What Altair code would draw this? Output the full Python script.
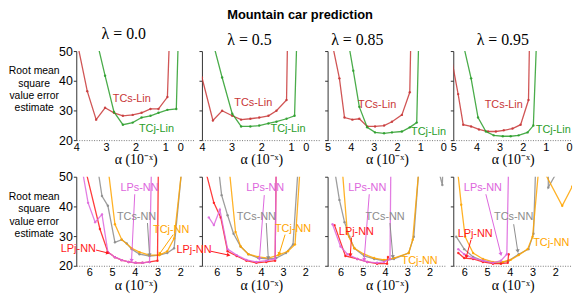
import math
import altair as alt
import pandas as pd

# ---------------- colours / series ----------------
COL = {
    "TCs-Lin": "#c83737",
    "TCj-Lin": "#2a9d2a",
    "LPs-NN": "#dd66dd",
    "LPj-NN": "#ff1a1a",
    "TCs-NN": "#8c8c8c",
    "TCj-NN": "#ffa500",
}
lambdas = ["0.0", "0.5", "0.85", "0.95"]
row_label = ["Root mean", "square", "value error", "estimate"]
x_title = "α  (10⁻ˣ)"

# ---------------- top row: linear function approximation ----------------
# x = exponent of step size (alpha = 10^-x), y = RMS value error estimate
l00_tcs_lin_x = [3.95, 3.63, 3.33, 3.03, 2.73, 2.43, 2.10, 1.80, 1.50, 1.23, 0.93, 0.87]
l00_tcs_lin_y = [52, 36.5, 26.9, 30.9, 29.2, 28.2, 28.5, 29.2, 30.5, 30.5, 34.5, 52]
l00_tcj_lin_x = [3.25, 3.03, 2.73, 2.43, 2.10, 1.80, 1.50, 1.23, 0.93, 0.63, 0.57]
l00_tcj_lin_y = [51, 41.7, 29.5, 25.2, 25.9, 27.6, 28.2, 29.2, 30.2, 30.5, 52]

l05_tcs_lin_x = [4.00, 3.63, 3.32, 2.98, 2.68, 2.37, 2.07, 1.76, 1.49, 1.15, 1.12]
l05_tcs_lin_y = [41.1, 26.6, 29.9, 28.2, 26.9, 27.2, 27.6, 28.2, 29.9, 33.5, 52]
l05_tcj_lin_x = [3.58, 3.32, 2.98, 2.68, 2.37, 2.07, 1.76, 1.49, 1.15, 0.88, 0.81]
l05_tcj_lin_y = [51, 41.1, 28.9, 24.6, 24.6, 24.9, 25.6, 26.2, 27.2, 28.2, 52]

l85_tcs_lin_x = [4.76, 4.49, 4.27, 3.93, 3.63, 3.29, 2.95, 2.56, 2.22, 1.79, 1.45, 1.41]
l85_tcs_lin_y = [51, 40.8, 27.6, 26.9, 27.2, 24.6, 24.6, 24.9, 26.2, 28.5, 36.1, 52]
l85_tcj_lin_x = [4.06, 3.89, 3.63, 3.29, 2.95, 2.56, 2.22, 1.79, 1.45, 1.15, 1.07]
l85_tcj_lin_y = [51, 43.4, 31.2, 24.3, 22.6, 22.3, 22.6, 22.9, 24.3, 25.9, 52]

l95_tcs_lin_x = [5.10, 4.79, 4.57, 4.23, 3.89, 3.50, 3.16, 2.82, 2.44, 2.09, 1.75, 1.71]
l95_tcs_lin_y = [48.5, 35.5, 25.2, 24.6, 23.6, 22.9, 22.9, 23.3, 23.9, 25.2, 33.5, 52]
l95_tcj_lin_x = [4.53, 4.23, 3.93, 3.59, 3.25, 2.86, 2.52, 2.18, 1.79, 1.54, 1.41]
l95_tcj_lin_y = [51, 40.8, 27.6, 22.9, 21.6, 21.3, 21.3, 21.6, 22.6, 24.9, 52]

# ---------------- bottom row: neural network ----------------
l00_lps_nn_x = [6.30, 6.05, 5.74, 5.44, 5.18, 4.87, 4.57, 4.27, 3.96, 3.66, 3.35, 3.26]
l00_lps_nn_y = [52, 41.2, 34.7, 37.3, 24.6, 22.9, 21.9, 21.3, 21.0, 21.0, 21.3, 55]
l00_lpj_nn_x = [6.12, 5.53, 5.18, 4.87, 4.57, 4.27, 3.96, 3.66, 3.35, 3.00, 2.96]
l00_lpj_nn_y = [51, 32.4, 24.6, 22.9, 21.9, 21.3, 21.0, 21.0, 21.3, 21.7, 55]
l00_tcs_nn_x = [5.60, 5.44, 5.18, 4.87, 4.57, 4.35, 4.13, 3.79, 3.35, 2.92, 2.57, 2.27, 1.94]
l00_tcs_nn_y = [51.5, 43.5, 40.2, 27.9, 28.8, 27.5, 25.6, 23.9, 23.3, 23.6, 24.3, 25.9, 52]
l00_tcj_nn_x = [5.15, 4.87, 4.57, 4.13, 3.79, 3.35, 2.92, 2.57, 2.27, 1.94]
l00_tcj_nn_y = [51.5, 34.0, 28.8, 25.9, 24.6, 23.6, 23.6, 24.9, 29.2, 52]

l05_lps_nn_x = [6.36, 6.13, 5.86, 5.51, 5.10, 4.66, 4.21, 3.76, 3.36, 3.31]
l05_lps_nn_y = [36.3, 33.7, 38.9, 25.6, 23.6, 22.0, 21.3, 21.7, 22.3, 55]
l05_lpj_nn_x = [6.47, 6.13, 5.82, 5.51, 5.10, 4.66, 4.21, 3.76, 3.36, 3.31]
l05_lpj_nn_y = [51, 41.2, 36.3, 24.9, 23.3, 21.7, 21.0, 21.3, 21.7, 55]
l05_tcs_nn_x = [5.90, 5.78, 5.51, 5.24, 4.92, 4.57, 4.12, 3.67, 3.31, 2.87, 2.55, 2.33]
l05_tcs_nn_y = [51.5, 43.8, 37.0, 30.8, 26.5, 23.9, 22.6, 22.3, 22.6, 24.3, 27.2, 52]
l05_tcj_nn_x = [5.42, 5.15, 4.92, 4.57, 4.12, 3.67, 3.22, 2.78, 2.46, 2.24]
l05_tcj_nn_y = [51.5, 31.4, 26.5, 23.9, 23.0, 22.6, 23.6, 24.9, 27.2, 52]

l85_lps_nn_x = [6.36, 6.00, 5.69, 5.25, 4.80, 4.36, 4.05, 3.78, 3.74]
l85_lps_nn_y = [34.0, 26.5, 23.9, 22.3, 21.3, 21.0, 21.3, 22.3, 55]
l85_lpj_nn_x = [6.27, 5.78, 5.25, 4.80, 4.36, 3.91, 3.87]
l85_lpj_nn_y = [33.7, 23.3, 22.3, 21.3, 20.7, 20.7, 23.0]
l85_tcs_nn_x = [6.25, 6.05, 5.82, 5.60, 5.38, 4.94, 4.49, 4.05, 3.60, 2.94, 2.71, 2.49, 1.56, 1.43, 1.40]
l85_tcs_nn_y = [51.5, 42.2, 34.7, 29.8, 25.9, 23.3, 22.3, 21.7, 22.3, 24.3, 29.8, 52, 51, 47.2, 55]
l85_tcj_nn_x = [5.91, 5.69, 5.38, 4.94, 4.49, 4.05, 3.60, 2.94, 2.76, 2.49]
l85_tcj_nn_y = [51.5, 30.8, 25.9, 23.9, 22.6, 22.0, 22.6, 24.3, 28.8, 52]

l95_lps_nn_x = [6.26, 6.00, 5.61, 5.18, 4.74, 4.39, 4.13, 4.05]
l95_lps_nn_y = [25.6, 23.9, 22.6, 21.7, 21.0, 21.7, 23.9, 55]
l95_lpj_nn_x = [6.26, 6.00, 5.61, 5.18, 4.74, 4.39, 4.09, 4.05]
l95_lpj_nn_y = [24.3, 22.6, 22.3, 21.3, 20.7, 20.7, 21.0, 23.9]
l95_tcs_nn_x = [6.35, 6.00, 5.61, 5.18, 4.74, 4.39, 4.05, 3.61, 3.18, 2.96, 2.87, 2.31, 2.31, 1.90]
l95_tcs_nn_y = [29.8, 25.6, 23.0, 21.7, 21.0, 21.0, 21.7, 23.9, 25.6, 30.8, 52, 52, 46.4, 52]
l95_tcj_nn_x = [6.28, 6.13, 5.96, 5.61, 5.18, 4.74, 4.31, 3.96, 3.61, 3.22, 3.00, 2.74, 2.48, 1.70, 1.26]
l95_tcj_nn_y = [51.5, 40.6, 29.8, 24.3, 22.3, 21.3, 21.3, 22.0, 23.6, 25.6, 29.8, 52, 51.5, 40.2, 46.7]

# ---------------- annotations (data units) ----------------
top_labels = [
    [("TCs-Lin", 2.13, 33.8), ("TCj-Lin", 1.30, 23.9)],
    [("TCs-Lin", 2.27, 32.5), ("TCj-Lin", 1.10, 23.6)],
    [("TCs-Lin", 2.86, 31.8), ("TCj-Lin", 0.64, 22.6)],
    [("TCs-Lin", 2.82, 31.8), ("TCj-Lin", 0.68, 23.3)],
]
bot_labels = [
    [("LPs-NN", 3.79, 46.1), ("TCs-NN", 3.92, 36.3), ("TCj-NN", 2.40, 32.1), ("LPj-NN", 6.48, 25.6)],
    [("LPs-NN", 3.81, 46.1), ("TCs-NN", 4.21, 36.3), ("TCj-NN", 2.55, 32.4), ("LPj-NN", 7.03, 25.2)],
    [("LPs-NN", 4.80, 46.1), ("TCs-NN", 4.00, 36.3), ("LPj-NN", 5.29, 31.4), ("TCj-NN", 2.45, 21.7)],
    [("LPs-NN", 5.18, 46.1), ("TCs-NN", 3.83, 36.3), ("LPj-NN", 5.52, 30.8), ("TCj-NN", 2.18, 27.5)],
]
bot_arrows = [
    [("LPj-NN", 5.70, 25.3, 5.18, 24.3), ("LPs-NN", 4.00, 44.1, 4.14, 21.7),
     ("TCs-NN", 3.44, 34.4, 3.35, 23.6), ("TCj-NN", 2.31, 30.5, 2.92, 23.9)],
    [("LPj-NN", 6.27, 24.9, 5.46, 23.6), ("LPs-NN", 3.85, 43.8, 4.07, 22.3),
     ("TCs-NN", 3.76, 34.4, 3.67, 22.6), ("TCj-NN", 2.91, 30.5, 3.18, 23.9)],
    [("LPj-NN", 5.51, 29.5, 5.56, 23.6), ("LPs-NN", 4.71, 44.1, 4.94, 22.0),
     ("TCs-NN", 3.78, 34.4, 3.65, 23.0)],
    [("LPj-NN", 5.70, 28.8, 5.91, 23.0), ("LPs-NN", 5.05, 44.1, 4.39, 23.9),
     ("TCs-NN", 3.83, 34.0, 3.65, 24.9)],
]

top_lines = [
    [("TCs-Lin", l00_tcs_lin_x, l00_tcs_lin_y), ("TCj-Lin", l00_tcj_lin_x, l00_tcj_lin_y)],
    [("TCs-Lin", l05_tcs_lin_x, l05_tcs_lin_y), ("TCj-Lin", l05_tcj_lin_x, l05_tcj_lin_y)],
    [("TCs-Lin", l85_tcs_lin_x, l85_tcs_lin_y), ("TCj-Lin", l85_tcj_lin_x, l85_tcj_lin_y)],
    [("TCs-Lin", l95_tcs_lin_x, l95_tcs_lin_y), ("TCj-Lin", l95_tcj_lin_x, l95_tcj_lin_y)],
]
bot_lines = [
    [("TCs-NN", l00_tcs_nn_x, l00_tcs_nn_y), ("TCj-NN", l00_tcj_nn_x, l00_tcj_nn_y),
     ("LPj-NN", l00_lpj_nn_x, l00_lpj_nn_y), ("LPs-NN", l00_lps_nn_x, l00_lps_nn_y)],
    [("TCs-NN", l05_tcs_nn_x, l05_tcs_nn_y), ("TCj-NN", l05_tcj_nn_x, l05_tcj_nn_y),
     ("LPj-NN", l05_lpj_nn_x, l05_lpj_nn_y), ("LPs-NN", l05_lps_nn_x, l05_lps_nn_y)],
    [("TCs-NN", l85_tcs_nn_x, l85_tcs_nn_y), ("TCj-NN", l85_tcj_nn_x, l85_tcj_nn_y),
     ("LPj-NN", l85_lpj_nn_x, l85_lpj_nn_y), ("LPs-NN", l85_lps_nn_x, l85_lps_nn_y)],
    [("TCs-NN", l95_tcs_nn_x, l95_tcs_nn_y), ("TCj-NN", l95_tcj_nn_x, l95_tcj_nn_y),
     ("LPj-NN", l95_lpj_nn_x, l95_lpj_nn_y), ("LPs-NN", l95_lps_nn_x, l95_lps_nn_y)],
]

top_xdoms = [[4, 0], [4, 0], [5, -0.13], [5, -0.13]]
top_xticks = [[4, 3, 2, 1, 0.5], [4, 3, 2, 1, 0.5], [5, 4, 3, 2, 1, 0], [5, 4, 3, 2, 1, 0]]
bot_xdoms = [[6.57, 1.35], [6.67, 1.30], [6.58, 1.25], [6.48, 1.27]]
bot_xticks = [6, 5, 4, 3, 2]
title_dx = [-12, -12, -30, -10]

W = 120
H = 90
YDOM = [20, 50]


def x_axis(values):
    return alt.Axis(
        values=values, title=x_title, titleFont="Liberation Serif", titleFontSize=14,
        titleFontWeight="normal", titlePadding=1, titleColor="black",
        labelFont="Liberation Sans", labelFontSize=11, labelPadding=1, labelColor="black",
        labelFlush=False, labelExpr="datum.value == 0.5 ? '0' : datum.label",
        ticks=False, domainColor="#777", domainDash=[1, 1.5], grid=False,
    )


def y_axis(first):
    if first:
        return alt.Axis(
            values=[20, 30, 40, 50], title=row_label, titleAngle=0, titleAlign="center",
            titleBaseline="top", titleX=-43, titleY=15, titleFont="Liberation Sans",
            titleFontSize=10.5, titleFontWeight="normal", titleLineHeight=12.5, titleColor="black",
            labelFont="Liberation Sans", labelFontSize=12.5, labelPadding=1, labelColor="black",
            tickSize=3, domainColor="#333", tickColor="#333", grid=False,
        )
    return alt.Axis(values=[20, 30, 40, 50], title=None, labels=False, tickSize=3,
                    domainColor="#333", tickColor="#333", grid=False)


def panel(lines, labels, arrows, xdom, xticks, first, lam=None, dx=0):
    xs = alt.Scale(domain=xdom, nice=False, zero=False)
    ys = alt.Scale(domain=YDOM, nice=False, zero=False)
    xa = x_axis(xticks)
    ya = y_axis(first)
    layers = []
    for name, xv, yv in lines:
        df = pd.DataFrame({"x": xv, "y": yv, "i": list(range(len(xv)))})
        layers.append(
            alt.Chart(df).mark_line(
                clip=True, strokeWidth=1.3, opacity=0.85, color=COL[name],
                point=alt.OverlayMarkDef(clip=True, size=6, filled=True, color=COL[name], opacity=0.85),
            ).encode(
                x=alt.X("x:Q", scale=xs, axis=xa),
                y=alt.Y("y:Q", scale=ys, axis=ya),
                order="i:Q",
            )
        )
    if arrows:
        ppx = W / (xdom[0] - xdom[1])
        ppy = H / (YDOM[1] - YDOM[0])
        rows = []
        for name, x1, y1, x2, y2 in arrows:
            sdx = -(x2 - x1) * ppx
            sdy = -(y2 - y1) * ppy
            ang = math.degrees(math.atan2(sdx, -sdy)) % 360
            rows.append({"x1": x1, "y1": y1, "x2": x2, "y2": y2, "c": COL[name], "ang": ang})
        adf = pd.DataFrame(rows)
        layers.append(
            alt.Chart(adf).mark_rule(strokeWidth=1).encode(
                x=alt.X("x1:Q", scale=xs, axis=xa), y=alt.Y("y1:Q", scale=ys, axis=ya),
                x2="x2:Q", y2="y2:Q", color=alt.Color("c:N", scale=None),
            )
        )
        layers.append(
            alt.Chart(adf).mark_point(shape="triangle-up", filled=True, size=18, opacity=1).encode(
                x=alt.X("x2:Q", scale=xs, axis=xa), y=alt.Y("y2:Q", scale=ys, axis=ya),
                angle=alt.Angle("ang:Q", scale=None), color=alt.Color("c:N", scale=None),
            )
        )
    ldf = pd.DataFrame([{"t": t, "x": x, "y": y, "c": COL[t]} for t, x, y in labels])
    layers.append(
        alt.Chart(ldf).mark_text(font="Liberation Sans", fontSize=11).encode(
            x=alt.X("x:Q", scale=xs, axis=xa), y=alt.Y("y:Q", scale=ys, axis=ya),
            text="t:N", color=alt.Color("c:N", scale=None),
        )
    )
    ch = alt.layer(*layers).properties(width=W, height=H)
    if lam is not None:
        ch = ch.properties(title=alt.TitleParams(
            text=f"λ = {lam}", font="Liberation Serif", fontSize=16, fontWeight="normal",
            dx=dx, offset=3, anchor="middle", color="black"))
    return ch


top_row = alt.hconcat(
    *[panel(top_lines[i], top_labels[i], None, top_xdoms[i], top_xticks[i], i == 0,
            lambdas[i], title_dx[i]) for i in range(4)],
    spacing=7, bounds="flush",
)
bot_row = alt.hconcat(
    *[panel(bot_lines[i], bot_labels[i], bot_arrows[i], bot_xdoms[i], bot_xticks, i == 0)
      for i in range(4)],
    spacing=7, bounds="flush",
)

chart = alt.vconcat(
    top_row, bot_row, spacing=4,
    title=alt.TitleParams("Mountain car prediction", font="Liberation Sans", fontSize=13,
                          fontWeight="bold", dx=10, anchor="middle", offset=4, color="black"),
).properties(padding=0).configure_view(stroke=None)

chart.save("out.html", embed_options={"renderer": "svg", "actions": False})
